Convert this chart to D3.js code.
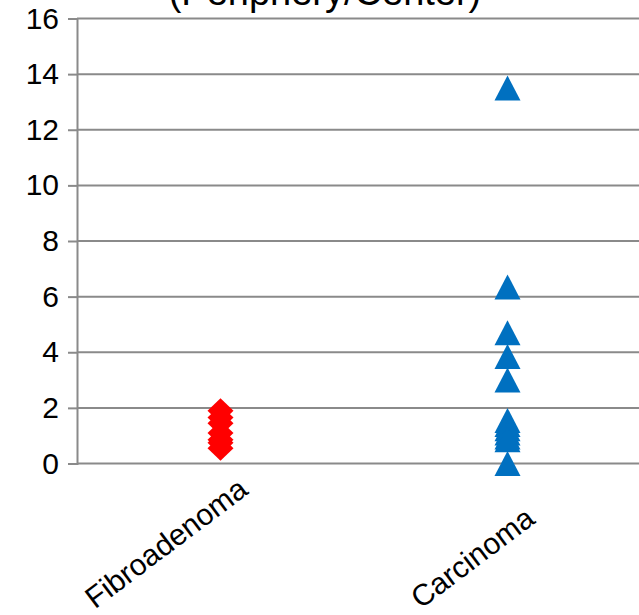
<!DOCTYPE html>
<html>
<head>
<meta charset="utf-8">
<script src="https://cdn.jsdelivr.net/npm/d3@7"></script>
<style>
  html, body { margin: 0; padding: 0; background: #fff; }
  svg { display: block; font-family: Arial, "Liberation Sans", sans-serif; }
</style>
</head>
<body>
<svg id="chart" width="639" height="615"></svg>
<script>
// ---- data ----
const categories = ["Fibroadenoma", "Carcinoma"];
const fibroadenomaValues = [1.9, 1.65, 1.45, 1.1, 0.85, 0.75, 0.55];
const carcinomaValues = [13.5, 6.35, 4.7, 3.85, 3.0, 1.55, 1.4, 1.25, 1.1, 0.95, 0.85, 0];
const yTicks = [0, 2, 4, 6, 8, 10, 12, 14, 16];
const titleText = "(Periphery/Center)";

const svg = d3.select("#chart");
const plot = { left: 77, right: 651, top: 18.5, bottom: 463.5 };

const x = d3.scaleBand().domain(categories).range([plot.left, plot.right]);
const y = d3.scaleLinear().domain([0, 16]).range([plot.bottom, plot.top]);

// title (mostly cut off at top, as in the reference)
svg.append("text")
  .attr("x", 325).attr("y", 5)
  .attr("text-anchor", "middle")
  .attr("font-size", 38)
  .attr("fill", "#000")
  .text(titleText);

// gridlines
svg.append("g")
  .selectAll("line")
  .data(yTicks)
  .join("line")
  .attr("x1", plot.left).attr("x2", plot.right)
  .attr("y1", d => y(d)).attr("y2", d => y(d))
  .attr("stroke", "#8a8a8a").attr("stroke-width", 2);

// y axis
const yAxis = d3.axisLeft(y).tickValues(yTicks).tickSize(9).tickPadding(9).tickFormat(d3.format("d"));
const gy = svg.append("g").attr("transform", `translate(${plot.left},0)`).call(yAxis);
gy.select(".domain").attr("stroke", "#8a8a8a").attr("stroke-width", 2);
gy.selectAll(".tick line").attr("stroke", "#8a8a8a").attr("stroke-width", 2);
gy.selectAll(".tick text").attr("font-size", 30).attr("fill", "#000")
  .attr("font-family", "Arial, 'Liberation Sans', sans-serif");

// category labels, rotated, right end near category centre, bottoms aligned
const angle = 37;
const rad = angle * Math.PI / 180;
const labelBottom = plot.bottom + 146;
svg.append("g")
  .selectAll("text")
  .data(categories)
  .join("text")
  .attr("text-anchor", "end")
  .attr("font-size", 30)
  .attr("fill", "#000")
  .text(d => d)
  .attr("transform", function(d) {
    const len = this.getComputedTextLength();
    const ex = x(d) + x.bandwidth() / 2 + 29;
    const ey = labelBottom - len * Math.sin(rad);
    return `translate(${ex},${ey}) rotate(${-angle})`;
  });

// markers
const cx0 = x("Fibroadenoma") + x.bandwidth() / 2;
const cx1 = x("Carcinoma") + x.bandwidth() / 2;
const mw = 26, mh = 25;

svg.append("g")
  .selectAll("path")
  .data(fibroadenomaValues)
  .join("path")
  .attr("d", d => {
    const cy = y(d);
    return `M${cx0},${cy - mh / 2}L${cx0 + mw / 2},${cy}L${cx0},${cy + mh / 2}L${cx0 - mw / 2},${cy}Z`;
  })
  .attr("fill", "#ff0000");

svg.append("g")
  .selectAll("path")
  .data(carcinomaValues)
  .join("path")
  .attr("d", d => {
    const cy = y(d);
    return `M${cx1},${cy - mh / 2}L${cx1 + mw / 2},${cy + mh / 2}L${cx1 - mw / 2},${cy + mh / 2}Z`;
  })
  .attr("fill", "#0070c0");
</script>
</body>
</html>
